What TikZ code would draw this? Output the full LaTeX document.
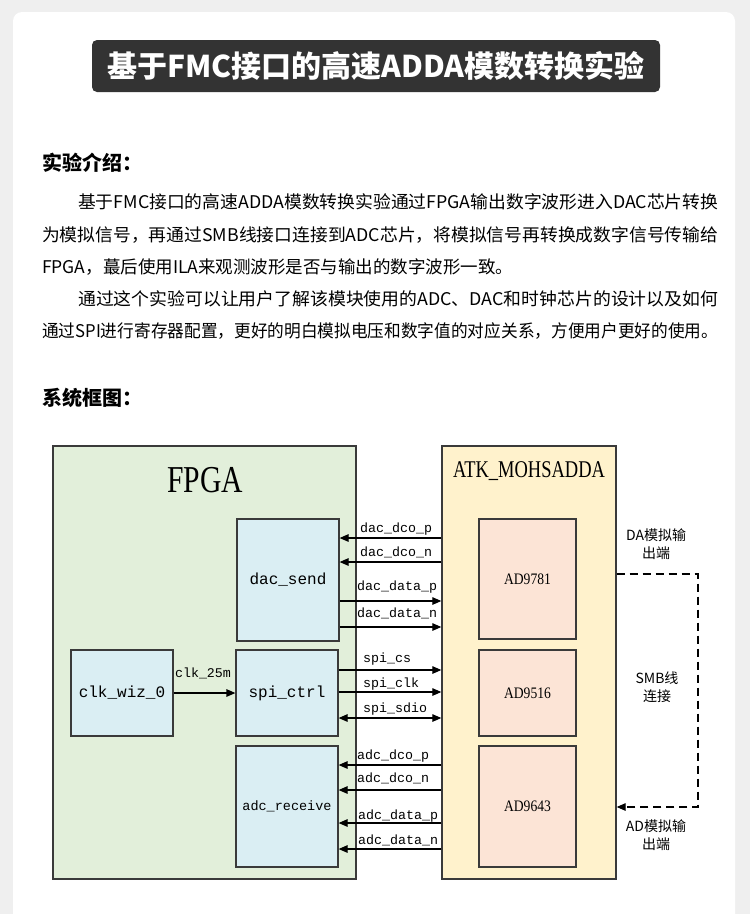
\documentclass[tikz,border=0pt]{standalone}
\usepackage{fontspec}
\usepackage{graphicx}
\setmainfont{Liberation Serif}
\setmonofont{Liberation Mono}
\newfontfamily\cjk{Noto Sans CJK SC}
\usetikzlibrary{arrows.meta,positioning}

\definecolor{pagegray}{HTML}{EFEFEF}
\definecolor{titlebg}{HTML}{333333}
\definecolor{edge}{HTML}{3A3A3A}
\definecolor{fpgagreen}{HTML}{E2EFDA}
\definecolor{modblue}{HTML}{DAEEF3}
\definecolor{atkyellow}{HTML}{FFF2CC}
\definecolor{chippeach}{HTML}{FCE4D6}

\newcommand{\jline}[2]{\resizebox{#1}{\height}{#2}}

\begin{document}
\begin{tikzpicture}[x=1pt,y=-1pt,
  outer/.style={draw=edge, line width=1.3pt, inner sep=0pt},
  blk/.style={draw=edge, line width=1.2pt, fill=modblue, minimum width=102pt, inner sep=0pt, font=\ttfamily\fontsize{16}{18}\selectfont},
  chip/.style={draw=edge, line width=1.2pt, fill=chippeach, minimum width=97pt, inner sep=0pt, font=\fontsize{16}{18}\selectfont},
  sig/.style={line width=1.2pt, -{Triangle[length=9pt,width=7.5pt]}},
  lbl/.style={anchor=base west, inner sep=0pt, font=\ttfamily\fontsize{13.3}{15}\selectfont},
  para/.style={anchor=base west, inner sep=0pt, font=\cjk\fontsize{17.5}{20}\selectfont},
  head/.style={anchor=base west, inner sep=0pt, font=\cjk\bfseries\fontsize{20}{22}\selectfont},
  note/.style={align=center, inner sep=0pt, font=\cjk\fontsize{14}{18}\selectfont}]
\useasboundingbox (0,0) rectangle (750,914);
\fill[pagegray] (0,0) rectangle (750,914);
\fill[white, rounded corners=9pt] (13,12) rectangle (735,940);

\node[fill=titlebg, rounded corners=5pt, minimum width=568pt, minimum height=52pt, inner sep=0pt, text=white, font=\cjk\bfseries\fontsize{30}{32}\selectfont] (title) at (376,66) {基于FMC接口的高速ADDA模数转换实验};

\node[head] (h1) at (42,170) {实验介绍：};
\node[para] (p1) at (78,208) {\jline{640pt}{基于FMC接口的高速ADDA模数转换实验通过FPGA输出数字波形进入DAC芯片转换}};
\node[para] (p2) at (42,241) {\jline{676pt}{为模拟信号，再通过SMB线接口连接到ADC芯片，将模拟信号再转换成数字信号传输给}};
\node[para] (p3) at (42,273) {FPGA，蕞后使用ILA来观测波形是否与输出的数字波形一致。};
\node[para] (p4) at (78,305) {\jline{640pt}{通过这个实验可以让用户了解该模块使用的ADC、DAC和时钟芯片的设计以及如何}};
\node[para] (p5) at (42,337) {\jline{676pt}{通过SPI进行寄存器配置，更好的明白模拟电压和数字值的对应关系，方便用户更好的使用。}};
\node[head] (h2) at (42,405) {系统框图：};

\node[outer, fill=fpgagreen, minimum width=303pt, minimum height=433pt] (fpga) at (204.5,662.5) {};
\node[outer, fill=atkyellow, minimum width=174pt, minimum height=433pt] (atk) at (529,662.5) {};
\node[font=\fontsize{38}{40}\selectfont] (fpganame) at (205,480) {\scalebox{0.78}[1]{FPGA}};
\node[font=\fontsize{24}{26}\selectfont] (atkname) at (529,471) {\scalebox{0.77}[1]{ATK\_MOHSADDA}};

\node[blk, minimum height=122pt] (dac) at (288,580) {dac\_send};
\node[blk, minimum height=86pt] (spi) at (287,693) {spi\_ctrl};
\node[blk, minimum height=121pt, font=\ttfamily\fontsize{13.5}{15}\selectfont] (adc) at (287,806.5) {adc\_receive};
\node[blk, minimum height=86pt] (clk) at (122,693) {clk\_wiz\_0};

\node[chip, minimum height=120pt] (da) at (527.5,579) {\scalebox{0.85}[1]{AD9781}};
\node[chip, minimum height=86pt] (pll) at (527.5,693) {\scalebox{0.85}[1]{AD9516}};
\node[chip, minimum height=121pt] (ad) at (527.5,806.5) {\scalebox{0.85}[1]{AD9643}};

\draw[sig] (clk.east) -- (spi.west);
\node[lbl, anchor=base] (clkname) at (203,677) {clk\_25m};

\draw[sig] (atk.west |- 0,538) -- (dac.east |- 0,538);
\draw[sig] (atk.west |- 0,562) -- (dac.east |- 0,562);
\draw[sig] (dac.east |- 0,601) -- (atk.west |- 0,601);
\draw[sig] (dac.east |- 0,627) -- (atk.west |- 0,627);
\draw[sig] (spi.east |- 0,670) -- (atk.west |- 0,670);
\draw[sig] (spi.east |- 0,692) -- (atk.west |- 0,692);
\draw[sig, {Triangle[length=9pt,width=7.5pt]}-{Triangle[length=9pt,width=7.5pt]}] (spi.east |- 0,718) -- (atk.west |- 0,718);
\draw[sig] (atk.west |- 0,765) -- (adc.east |- 0,765);
\draw[sig] (atk.west |- 0,790) -- (adc.east |- 0,790);
\draw[sig] (atk.west |- 0,823) -- (adc.east |- 0,823);
\draw[sig] (atk.west |- 0,849) -- (adc.east |- 0,849);

\node[lbl] (s1) at (360,532) {dac\_dco\_p};
\node[lbl] (s2) at (360,556) {dac\_dco\_n};
\node[lbl] (s3) at (357,590) {dac\_data\_p};
\node[lbl] (s4) at (357,617) {dac\_data\_n};
\node[lbl] (s5) at (363,662) {spi\_cs};
\node[lbl] (s6) at (363,687) {spi\_clk};
\node[lbl] (s7) at (363,712) {spi\_sdio};
\node[lbl] (s8) at (357,759) {adc\_dco\_p};
\node[lbl] (s9) at (357,782) {adc\_dco\_n};
\node[lbl] (s10) at (358,819) {adc\_data\_p};
\node[lbl] (s11) at (358,844) {adc\_data\_n};

\coordinate (loopA) at (698,574);
\coordinate (loopB) at (698,807);
\draw[line width=1.2pt, dash pattern=on 8pt off 5pt, -{Triangle[length=9pt,width=7.5pt]}] (atk.east |- loopA) -- (loopA) -- (loopB) -- (atk.east |- loopB);

\node[note] (daout) at (656,544) {DA模拟输\\出端};
\node[note] (smb) at (657,687) {SMB线\\连接};
\node[note] (adout) at (656,835) {AD模拟输\\出端};
\end{tikzpicture}
\end{document}
